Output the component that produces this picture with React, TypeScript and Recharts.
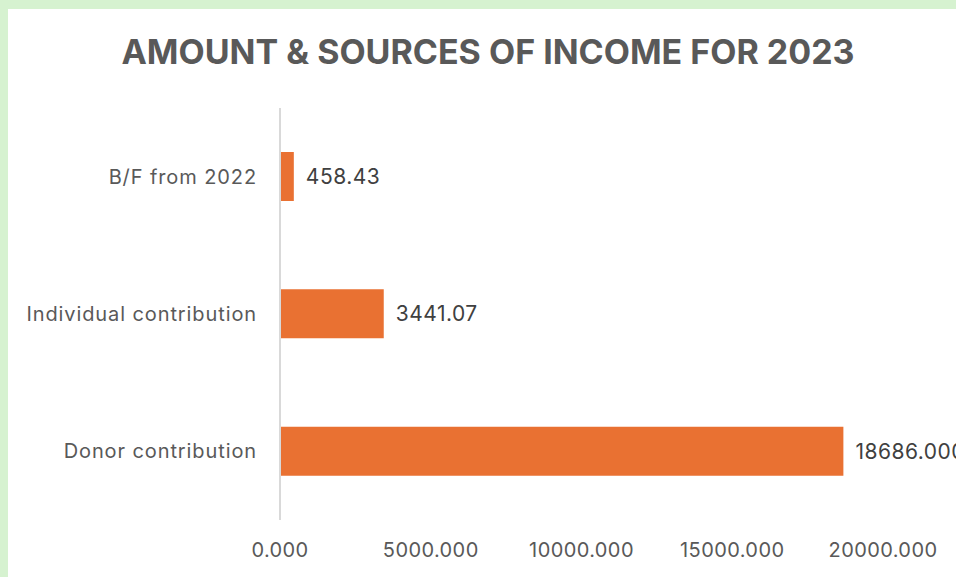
import { BarChart, Bar, XAxis, YAxis, LabelList } from "recharts";

const categories = ["B/F from 2022", "Individual contribution", "Donor contribution"];
const amounts = [458.43, 3441.07, 18686.0];
const amountLabels = ["458.43", "3441.07", "18686.000"];
const xTicks = [0, 5000, 10000, 15000, 20000];

const chartData = categories.map((name, i) => ({
    name,
    amount: amounts[i],
    label: amountLabels[i],
}));

const FONT = "Inter, 'Open Sans', sans-serif";

export default function App() {
    return (
        <div
            style={{
                position: "fixed",
                left: 0,
                top: 0,
                width: 956,
                height: 577,
                background: "#d6f2d0",
                overflow: "hidden",
                fontFamily: FONT,
            }}
        >
            <div
                style={{
                    position: "absolute",
                    left: 8,
                    top: 9,
                    width: 948,
                    height: 568,
                    background: "#ffffff",
                    overflow: "hidden",
                }}
            >
                <div
                    style={{
                        position: "absolute",
                        left: 0,
                        width: 960,
                        top: 22,
                        textAlign: "center",
                        fontSize: 34,
                        fontWeight: 700,
                        color: "#595959",
                    }}
                >
                    AMOUNT &amp; SOURCES OF INCOME FOR 2023
                </div>
                <BarChart
                    width={1000}
                    height={568}
                    data={chartData}
                    layout="vertical"
                    margin={{ top: 99, right: 125, left: 0, bottom: 17 }}
                    barSize={49}
                >
                    <XAxis
                        type="number"
                        domain={[0, 20000]}
                        ticks={xTicks}
                        tickFormatter={(v: number) => v.toFixed(3)}
                        axisLine={false}
                        tickLine={false}
                        tickMargin={17}
                        height={40}
                        tick={{ fontSize: 20, fill: "#595959", fontFamily: FONT, letterSpacing: 0.4 }}
                        interval={0}
                    />
                    <YAxis
                        type="category"
                        dataKey="name"
                        width={272}
                        axisLine={{ stroke: "#d9d9d9", strokeWidth: 2 }}
                        tickLine={false}
                        tickMargin={17}
                        tick={{ fontSize: 20, fill: "#595959", fontFamily: FONT, letterSpacing: 0.9 }}
                    />
                    <Bar dataKey="amount" fill="#e97132" isAnimationActive={false}>
                        <LabelList
                            dataKey="label"
                            position="right"
                            offset={12}
                            style={{ fontSize: 21, fill: "#404040", fontFamily: FONT, letterSpacing: 0.5 }}
                        />
                    </Bar>
                </BarChart>
            </div>
        </div>
    );
}
